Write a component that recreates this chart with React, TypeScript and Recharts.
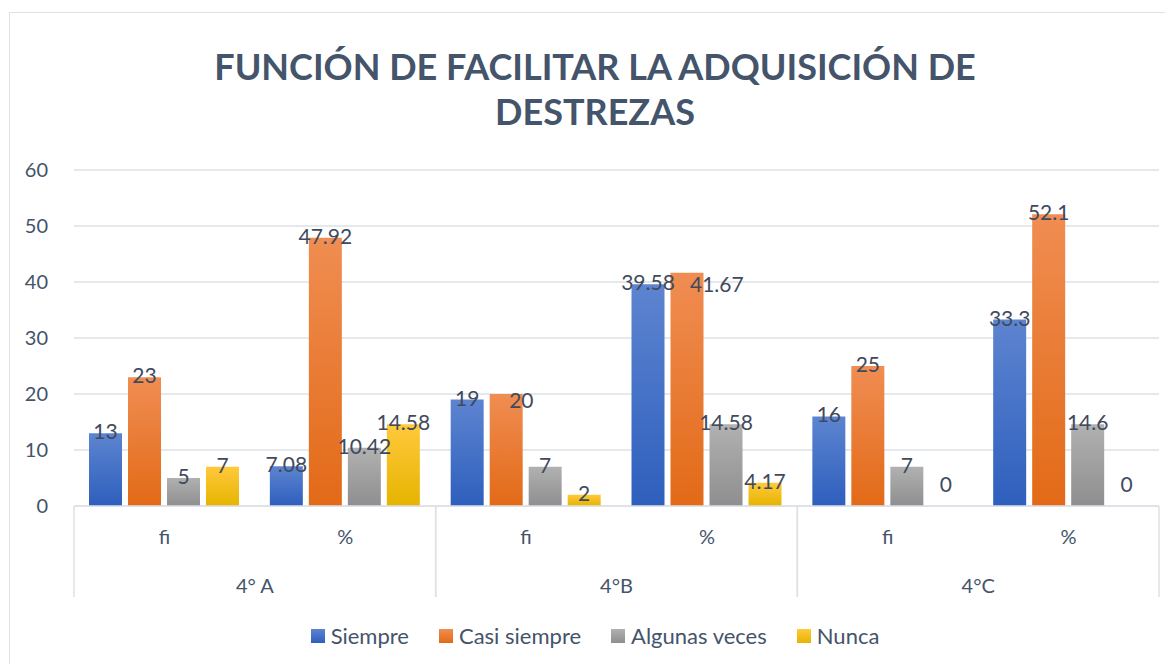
import { BarChart, Bar, XAxis, YAxis, CartesianGrid } from "recharts";

const subCategories = ["fi", "%", "fi", "%", "fi", "%"];
const groups = ["4° A", "4°B", "4°C"];
const siempre = [13, 7.08, 19, 39.58, 16, 33.3];
const casiSiempre = [23, 47.92, 20, 41.67, 25, 52.1];
const algunasVeces = [5, 10.42, 7, 14.58, 7, 14.6];
const nunca = [7, 14.58, 2, 4.17, 0, 0];
const yTicks = [0, 10, 20, 30, 40, 50, 60];

const series = [
  { key: "siempre", name: "Siempre", top: "#5d84d0", bottom: "#2e5fbd" },
  { key: "casi", name: "Casi siempre", top: "#f08d52", bottom: "#e26a17" },
  { key: "algunas", name: "Algunas veces", top: "#b1b1b1", bottom: "#8e8e8e" },
  { key: "nunca", name: "Nunca", top: "#ffc93c", bottom: "#e6b400" },
];

const data = subCategories.map((sub, i) => ({
  sub,
  group: groups[Math.floor(i / 2)],
  siempre: siempre[i],
  casi: casiSiempre[i],
  algunas: algunasVeces[i],
  nunca: nunca[i],
}));

const TEXT = "#44546a";
const LINE = "#dde1e7";
const FONT = "Lato, 'Open Sans', sans-serif";

const W = 1170;
const H = 660;
const MARGIN = { top: 157, right: 21, left: 0, bottom: 77 };
const Y_W = 64;
const CAT_W = (W - MARGIN.right - Y_W) / subCategories.length;
const PX_PER_UNIT = (H - MARGIN.top - MARGIN.bottom - 90) / 60;

function XTick(props: any) {
  const { x, y, payload, index } = props;
  const half = CAT_W / 2;
  return (
    <g>
      <text x={x} y={y + 38} textAnchor="middle" fill={TEXT} fontSize={20} fontFamily={FONT}>
        {payload.value}
      </text>
      {index % 2 === 0 && (
        <line x1={x - half} x2={x - half} y1={y} y2={y + 91} stroke={LINE} strokeWidth={1.5} />
      )}
      {index % 2 === 1 && (
        <>
          <text x={x - half} y={y + 87} textAnchor="middle" fill={TEXT} fontSize={20} fontFamily={FONT}>
            {data[index].group}
          </text>
          <line x1={x + half} x2={x + half} y1={y} y2={y + 91} stroke={LINE} strokeWidth={1.5} />
        </>
      )}
    </g>
  );
}

// label near the bar top; "Casi siempre" slides right when Siempre is nearly as tall
function makeLabel(key: string) {
  return (props: any) => {
    const { x, y, width, value, index } = props;
    let tx = x + width / 2;
    let baseline = value === 0 ? y - 14 : y + 6;
    let anchor: "middle" | "start" = "middle";
    if (key === "casi" && Math.abs(value - siempre[index]) < 5) {
      anchor = "start";
      tx = x + width / 2 + 3;
      baseline = y + (value - siempre[index]) * PX_PER_UNIT + 8;
    }
    return (
      <text key={`${key}-${index}`} x={tx} y={baseline} textAnchor={anchor} fill="#404a5c" fontSize={21} fontFamily={FONT}>
        {value}
      </text>
    );
  };
}

export default function App() {
  return (
    <div
      style={{
        position: "relative",
        width: W,
        height: H,
        marginTop: 4,
        marginLeft: 1,
        border: `1.5px solid ${LINE}`,
        background: "#fff",
        fontFamily: FONT,
      }}
    >
      <div
        style={{
          position: "absolute",
          top: 31,
          left: 0,
          width: W,
          textAlign: "center",
          color: TEXT,
          fontWeight: 700,
          fontSize: 36,
          lineHeight: "45px",
        }}
      >
        FUNCIÓN DE FACILITAR LA ADQUISICIÓN DE
        <br />
        DESTREZAS
      </div>
      <BarChart
        width={W}
        height={H}
        data={data}
        margin={MARGIN}
        barCategoryGap="8.3%"
        barGap={6}
      >
        <defs>
          {series.map((s) => (
            <linearGradient key={s.key} id={`grad-${s.key}`} x1="0" y1="0" x2="0" y2="1">
              <stop offset="0%" stopColor={s.top} />
              <stop offset="100%" stopColor={s.bottom} />
            </linearGradient>
          ))}
        </defs>
        <CartesianGrid vertical={false} stroke={LINE} strokeWidth={1.5} />
        <XAxis
          dataKey="sub"
          interval={0}
          tickLine={false}
          tickSize={0}
          tickMargin={0}
          stroke={LINE}
          strokeWidth={1.5}
          height={90}
          tick={<XTick />}
        />
        <YAxis
          domain={[0, 60]}
          ticks={yTicks}
          width={Y_W}
          axisLine={false}
          tickLine={false}
          tickMargin={20}
          tick={{ fontSize: 20, fill: TEXT, fontFamily: FONT }}
        />
        {series.map((s) => (
          <Bar
            key={s.key}
            dataKey={s.key}
            name={s.name}
            fill={`url(#grad-${s.key})`}
            minPointSize={0.01}
            isAnimationActive={false}
            label={makeLabel(s.key)}
          />
        ))}
      </BarChart>
      <div
        style={{
          position: "absolute",
          top: 609,
          left: 0,
          width: W,
          display: "flex",
          justifyContent: "center",
          gap: 30,
          color: TEXT,
          fontSize: 22,
          lineHeight: "28px",
        }}
      >
        {series.map((s) => (
          <div key={s.key} style={{ display: "flex", alignItems: "center", gap: 6 }}>
            <span
              style={{
                display: "inline-block",
                width: 14,
                height: 14,
                background: `linear-gradient(${s.top}, ${s.bottom})`,
              }}
            />
            <span>{s.name}</span>
          </div>
        ))}
      </div>
    </div>
  );
}
